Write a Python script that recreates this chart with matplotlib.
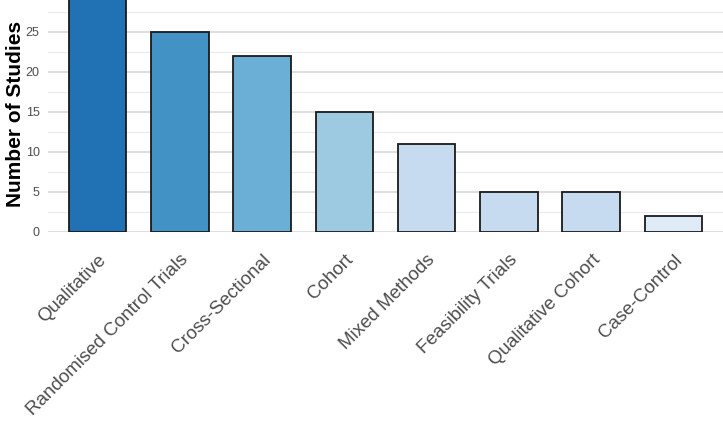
import matplotlib.pyplot as plt

# Data
designs = ['Qualitative', 'Randomised Control Trials', 'Cross-Sectional', 'Cohort',
           'Mixed Methods', 'Feasibility Trials', 'Qualitative Cohort', 'Case-Control']
studies = [31, 25, 22, 15, 11, 5, 5, 2]
colours = ['#2171b5', '#4292c6', '#6baed6', '#9ecae1',
           '#c6dbef', '#c6dbef', '#c6dbef', '#deebf7']

plt.rcParams['font.family'] = ['Liberation Sans', 'DejaVu Sans']

fig = plt.figure(figsize=(7.23, 4.24), dpi=100)
ax = fig.add_axes([48 / 723, 1 - 232 / 424, 675 / 723, 232 / 424])

x = range(len(designs))
ax.bar(x, studies, width=0.7, color=colours, edgecolor='#1a1a1a', linewidth=1.3, zorder=3)

ax.set_xlim(-0.6, len(designs) - 0.4)
ax.set_ylim(0, 29)

# ggplot-like minimal theme
ax.set_yticks([0, 5, 10, 15, 20, 25])
ax.set_yticks([2.5, 7.5, 12.5, 17.5, 22.5, 27.5], minor=True)
ax.grid(axis='y', which='major', color='#d4d4d4', linewidth=1.1, zorder=0)
ax.grid(axis='y', which='minor', color='#ececec', linewidth=0.8, zorder=0)
ax.grid(axis='x', visible=False)
for s in ax.spines.values():
    s.set_visible(False)
ax.tick_params(axis='both', which='both', length=0)
ax.tick_params(axis='y', labelsize=9, labelcolor='#4d4d4d', pad=6)

ax.set_xticks(list(x))
ax.set_xticklabels(designs, rotation=45, ha='right', va='top',
                   rotation_mode='anchor', fontsize=13.5, color='#4d4d4d')
ax.tick_params(axis='x', pad=14)

ax.set_ylabel('Number of Studies', fontsize=15, fontweight='bold', color='black')
ax.yaxis.set_label_coords(-0.034, 0.511)

fig.savefig('out.png', dpi=100)
